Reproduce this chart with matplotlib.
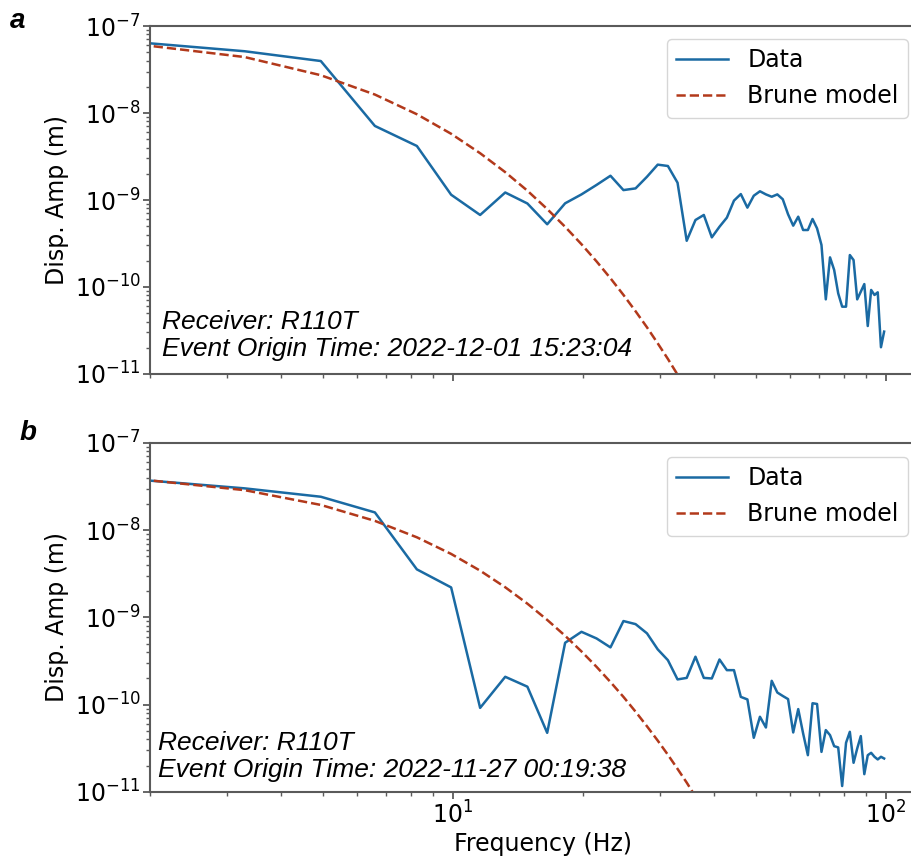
import matplotlib
matplotlib.use("Agg")
import numpy as np
import matplotlib.pyplot as plt

plt.rcParams["font.family"] = ["DejaVu Sans"]
plt.rcParams["mathtext.fontset"] = "dejavusans"

# spectral bins (Hz)
freq = [1.65, 3.3, 4.95, 6.6, 8.25, 9.9, 11.55, 13.2, 14.85, 16.5,
        18.15, 19.8, 21.45, 23.1, 24.75, 26.4, 28.05, 29.7, 31.35, 33.0,
        34.65, 36.3, 37.95, 39.6, 41.25, 42.9, 44.55, 46.2, 47.85, 49.5,
        51.15, 52.8, 54.45, 56.1, 57.75, 59.4, 61.05, 62.7, 64.35, 66.0,
        67.65, 69.3, 70.95, 72.6, 74.25, 75.9, 77.55, 79.2, 80.85, 82.5,
        84.15, 85.8, 87.45, 89.1, 90.75, 92.4, 94.05, 95.7, 97.35, 99.0]

# event a: 2022-12-01 15:23:04
amp_a = [6.85e-8, 5.13e-8, 3.96e-8, 7.10e-9, 4.18e-9, 1.15e-9, 6.73e-10, 1.22e-9, 9.12e-10, 5.26e-10,
         9.16e-10, 1.16e-9, 1.49e-9, 1.90e-9, 1.30e-9, 1.36e-9, 1.85e-9, 2.55e-9, 2.46e-9, 1.58e-9,
         3.40e-10, 5.89e-10, 6.73e-10, 3.72e-10, 4.93e-10, 6.27e-10, 9.84e-10, 1.17e-9, 8.17e-10, 1.12e-9,
         1.26e-9, 1.16e-9, 1.09e-9, 1.16e-9, 1.02e-9, 6.85e-10, 5.07e-10, 6.43e-10, 4.52e-10, 4.52e-10,
         6.05e-10, 4.72e-10, 3.04e-10, 7.21e-11, 2.19e-10, 1.57e-10, 8.45e-11, 5.94e-11, 5.94e-11, 2.33e-10,
         2.04e-10, 7.21e-11, 8.83e-11, 1.08e-10, 3.56e-11, 9.25e-11, 8.09e-11, 8.69e-11, 2.03e-11, 3.07e-11]
brune_a = [6.62e-8, 4.40e-8, 2.72e-8, 1.63e-8, 9.68e-9, 5.77e-9, 3.45e-9, 2.09e-9, 1.28e-9, 7.87e-10,
           4.92e-10, 3.10e-10, 1.97e-10, 1.26e-10, 8.11e-11, 5.26e-11, 3.44e-11, 2.25e-11, 1.49e-11, 9.84e-12,
           6.56e-12]

# event b: 2022-11-27 00:19:38
amp_b = [4.00e-8, 3.02e-8, 2.42e-8, 1.60e-8, 3.56e-9, 2.21e-9, 9.20e-11, 2.09e-10, 1.61e-10, 4.76e-11,
         5.13e-10, 6.85e-10, 5.75e-10, 4.54e-10, 9.10e-10, 8.39e-10, 6.58e-10, 4.31e-10, 3.24e-10, 1.95e-10,
         2.03e-10, 3.55e-10, 2.03e-10, 2.00e-10, 3.30e-10, 2.49e-10, 2.49e-10, 1.23e-10, 1.15e-10, 4.18e-11,
         7.28e-11, 5.48e-11, 1.88e-10, 1.38e-10, 1.26e-10, 1.16e-10, 4.81e-11, 8.91e-11, 4.69e-11, 2.64e-11,
         1.04e-10, 1.02e-10, 2.88e-11, 5.12e-11, 4.48e-11, 3.35e-11, 3.24e-11, 1.17e-11, 3.66e-11, 4.89e-11,
         2.16e-11, 3.15e-11, 4.37e-11, 1.60e-11, 2.64e-11, 2.81e-11, 2.53e-11, 2.36e-11, 2.53e-11, 2.42e-11]
brune_b = [4.11e-8, 2.88e-8, 1.95e-8, 1.28e-8, 8.30e-9, 5.35e-9, 3.44e-9, 2.22e-9, 1.44e-9, 9.38e-10,
           6.17e-10, 4.08e-10, 2.72e-10, 1.82e-10, 1.23e-10, 8.32e-11, 5.66e-11, 3.88e-11, 2.67e-11, 1.84e-11,
           1.28e-11, 8.87e-12, 6.19e-12]

receiver = "R110T"
origin_times = ["2022-12-01 15:23:04", "2022-11-27 00:19:38"]
panel_tags = ["a", "b"]

DATA_C = "#1a6aa3"
MODEL_C = "#b2391b"
SPINE_C = "#5a5a5a"
FS = 17

fig = plt.figure(figsize=(9.12, 8.56), dpi=100)
# right end of the frequency axis runs past the figure edge
ax_a = fig.add_axes([0.1649, 0.5631, 0.8607, 0.4065])
ax_b = fig.add_axes([0.1649, 0.0748, 0.8607, 0.4077])

panels = [(ax_a, amp_a, brune_a, 1 - 39 / 856, 329, 356, 162),
          (ax_b, amp_b, brune_b, 1 - 457 / 856, 750, 777, 158)]

for i, (ax, amp, brune, leg_top, y1, y2, x0) in enumerate(panels):
    ax.loglog(freq, amp, color=DATA_C, lw=1.8, label="Data")
    ax.loglog(freq[:len(brune)], brune, color=MODEL_C, lw=1.8, ls="--", label="Brune model")
    ax.set_xlim(2, 130)
    ax.set_ylim(1e-11, 1e-7)
    ax.set_ylabel("Disp. Amp (m)", fontsize=FS)
    ax.tick_params(which="both", colors=SPINE_C, labelcolor="black", labelsize=FS)
    ax.tick_params(which="major", length=5, width=1.3, pad=2)
    ax.tick_params(which="minor", length=3, width=1.0)
    for sp in ax.spines.values():
        sp.set_color(SPINE_C)
        sp.set_linewidth(1.5)
    ax.legend(loc="upper right", bbox_to_anchor=(908 / 912, leg_top),
              bbox_transform=fig.transFigure, borderaxespad=0, fontsize=FS,
              handlelength=2.2, fancybox=True)
    ax.text(x0 / 912, 1 - y1 / 856, f"Receiver: {receiver}", transform=fig.transFigure,
            fontsize=19, style="italic", family="Liberation Sans", va="baseline")
    ax.text(x0 / 912, 1 - y2 / 856, f"Event Origin Time: {origin_times[i]}",
            transform=fig.transFigure, fontsize=19, style="italic",
            family="Liberation Sans", va="baseline")

ax_a.tick_params(labelbottom=False)
ax_b.set_xlabel("Frequency (Hz)", fontsize=FS, labelpad=2)

fig.text(10 / 912, 1 - 28 / 856, panel_tags[0], fontsize=20, weight="bold", style="italic",
         family="Liberation Sans", va="baseline")
fig.text(20 / 912, 1 - 440 / 856, panel_tags[1], fontsize=20, weight="bold", style="italic",
         family="Liberation Sans", va="baseline")

fig.savefig("out.png", dpi=100)
plt.close(fig)
